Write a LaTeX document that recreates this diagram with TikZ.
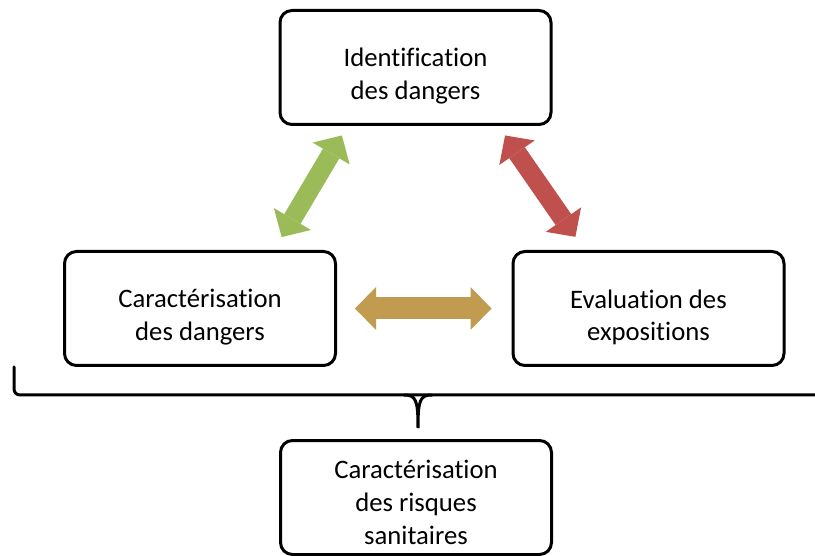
\documentclass[tikz,border=0pt]{standalone}
\usepackage{fontspec}
\setmainfont{Carlito}[Ligatures=CommonOff]
\usetikzlibrary{arrows.meta}
\definecolor{arrowgreen}{RGB}{155,187,89}
\definecolor{arrowred}{RGB}{192,80,77}
\definecolor{arrowgold}{RGB}{192,155,80}
\newcommand{\lift}[1]{\rule{0pt}{#1}}

\begin{document}
\begin{tikzpicture}[x=1pt, y=-1pt,
        box/.style={draw, line width=3pt, rounded corners=12pt, minimum width=271pt, minimum height=114pt,
            align=center, font=\fontsize{26.7}{32.6}\selectfont},
        duo/.style={line width=19pt, {Triangle[length=21pt,width=43pt,line width=0pt]}-{Triangle[length=21pt,width=43pt,line width=0pt]}},
        bracket/.style={line width=3pt, line cap=round}]
    \useasboundingbox (0,0) rectangle (815,556);
    \node[box] (id) at (415.5,67.5) {\lift{36pt}Identification\\des dangers};
    \node[box] (cd) at (200,308.5) {\lift{36pt}Caractérisation\\des dangers};
    \node[box] (ev) at (648.5,308.5) {\lift{36pt}Evaluation des\\expositions};
    \node[box] (sr) at (416,497.5) {\lift{28pt}Caractérisation\\des risques\\sanitaires};
    \draw[duo, arrowgreen, shorten <=15pt, shorten >=11pt] ([xshift=74pt]cd.north) -- ([xshift=-68pt]id.south);
    \draw[duo, arrowred, shorten <=11.5pt, shorten >=16pt] ([xshift=83pt]id.south) -- ([xshift=-64pt]ev.north);
    \draw[duo, arrowgold, line width=22pt, shorten <=18pt, shorten >=20pt] (cd.east) -- (ev.west);
    \draw[bracket, rounded corners=6pt] (14,367) -- (14,395) -- (815,395);
    \draw[bracket] (404,395) .. controls (416,395) and (418,400) .. (418,428)
        .. controls (418,400) and (420,395) .. (432,395);
\end{tikzpicture}
\end{document}
